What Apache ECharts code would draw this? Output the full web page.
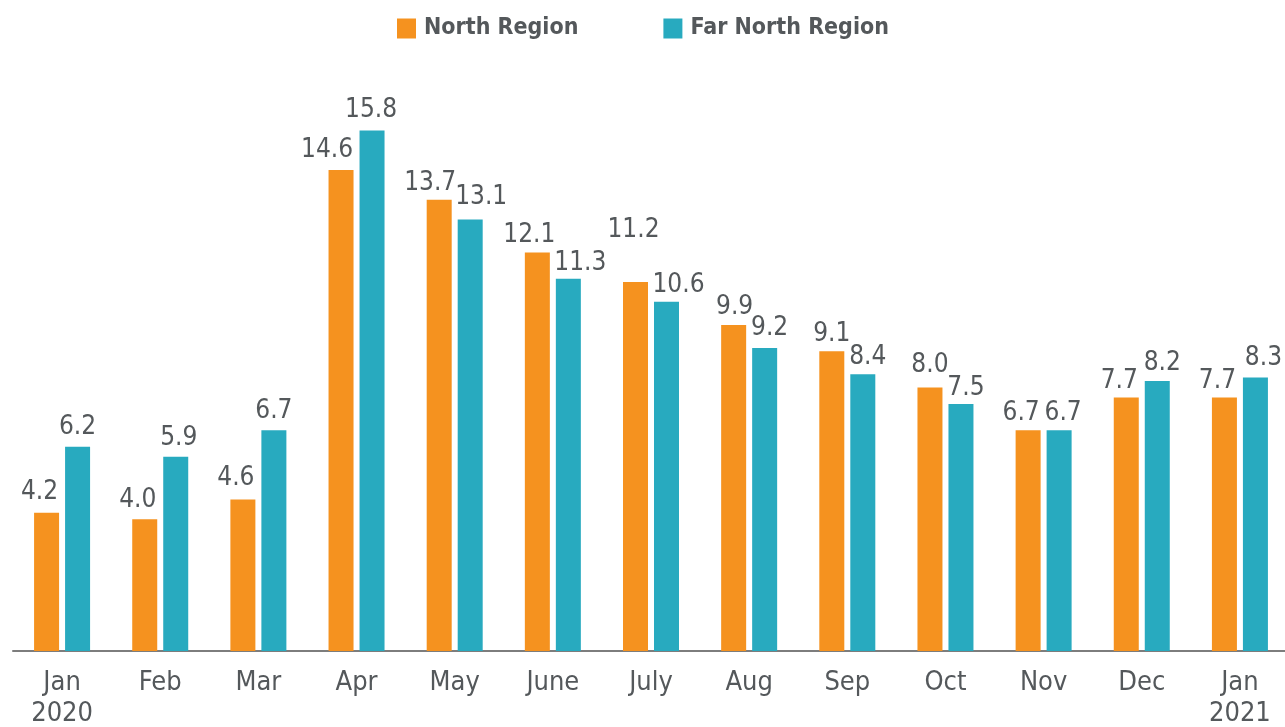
<!DOCTYPE html>
<html>
<head>
<meta charset="utf-8">
<script src="https://cdn.jsdelivr.net/npm/echarts@6/dist/echarts.min.js"></script>
<style>
html,body{margin:0;padding:0;background:#fff;}
#chart{width:1285px;height:727px;}
</style>
</head>
<body>
<div id="chart"></div>
<script>
// ---- data ----
const categories = ['Jan\n2020','Feb','Mar','Apr','May','June','July','Aug','Sep','Oct','Nov','Dec','Jan\n2021'];
const northRegion = [4.2,4.0,4.6,14.6,13.7,12.1,11.2,9.9,9.1,8.0,6.7,7.7,7.7];
const farNorthRegion = [6.2,5.9,6.7,15.8,13.1,11.3,10.6,9.2,8.4,7.5,6.7,8.2,8.3];
const seriesNames = ['North Region','Far North Region'];

// ---- label nudges (style only, in pixels) ----
const northLabelDx = [-7,-7,-7,-14,-9,-8,-2,1,0,0,-7,-7,-7];
const northLabelDy = [-2,-1,-3,-2,1,1,-34,0,1,-4,1,2,2];
const farLabelDx = [0,3,0,-1,11,12,12,5,5,5,4,5,8];
const farLabelDy = [-2,0,-1,-2,-4,2,1,-2,1,2,1,0,-1];

const textColor = '#54585b';
const fontFamily = '"Liberation Sans Narrow", "DejaVu Sans Condensed", sans-serif';

function buildData(values, dx, dy) {
  return values.map((v, i) => ({value: v, label: {offset: [dx[i], dy[i]]}}));
}

const chart = echarts.init(document.getElementById('chart'), null, {renderer:'canvas'});
const labelCfg = {
  show: true,
  position: 'top',
  distance: 5,
  color: textColor,
  fontSize: 26,
  fontFamily: fontFamily,
  formatter: p => p.value.toFixed(1)
};
chart.setOption({
  animation: false,
  legend: {
    top: 12,
    left: 392,
    itemWidth: 19,
    itemHeight: 20,
    itemGap: 85,
    icon: 'rect',
    textStyle: {color: textColor, fontSize: 23, fontWeight: 'bold', fontFamily: fontFamily, padding:[0,0,0,3]},
    data: seriesNames
  },
  grid: {left: 13, top: 124, width: 1276, bottom: 76, containLabel: false, outerBoundsMode: 'none'},
  xAxis: {
    type: 'category',
    data: categories,
    axisTick: {show: false},
    axisLine: {lineStyle: {color: '#7d7d7d', width: 2}},
    axisLabel: {color: textColor, fontSize: 27, fontFamily: fontFamily, lineHeight: 31, margin: 16, interval: 0}
  },
  yAxis: {type: 'value', min: 0, max: 16, show: false},
  series: [
    {name: seriesNames[0], type: 'bar', data: buildData(northRegion, northLabelDx, northLabelDy),
     barWidth: 25, barGap: '24%', itemStyle: {color: '#f5921f'}, label: labelCfg},
    {name: seriesNames[1], type: 'bar', data: buildData(farNorthRegion, farLabelDx, farLabelDy),
     barWidth: 25, barGap: '24%', itemStyle: {color: '#28aabf'}, label: labelCfg}
  ]
});
</script>
</body>
</html>
